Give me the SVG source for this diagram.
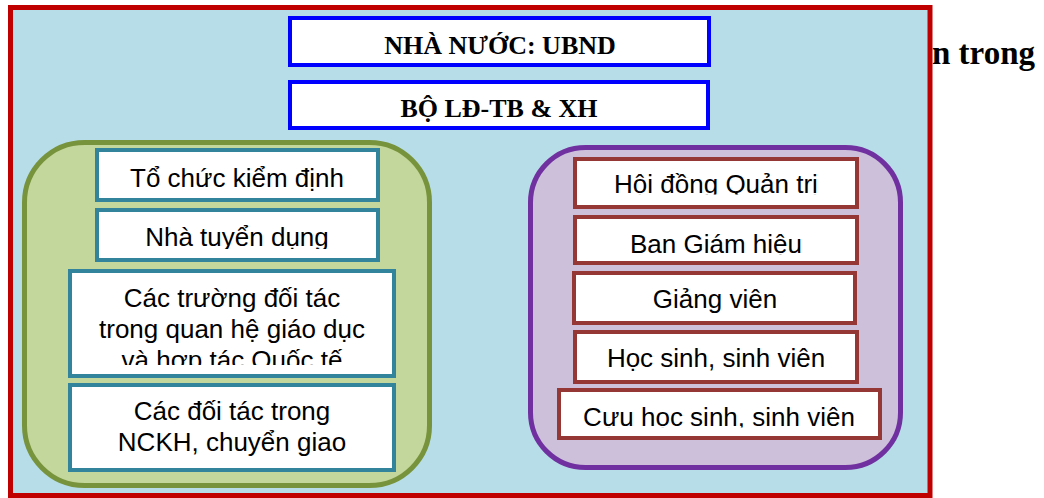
<svg xmlns="http://www.w3.org/2000/svg" width="1044" height="498" viewBox="0 0 1044 498">
<style>
.frame{fill:#b7dde8;stroke:#c00000;stroke-width:5}
.gov{fill:#fff;stroke:#0000ff;stroke-width:4}
.gt{font-family:"Liberation Serif","Times New Roman",serif;font-weight:bold;font-size:26px;fill:#000;text-anchor:middle}
.ext{fill:#c3d69b;stroke:#77933c;stroke-width:5}
.int{fill:#ccc0da;stroke:#7030a0;stroke-width:5}
.eb{fill:#fff;stroke:#31849b;stroke-width:4}
.ib{fill:#fff;stroke:#953735;stroke-width:4}
.t{font-family:"Liberation Sans",Arial,sans-serif;font-size:26px;fill:#000;text-anchor:middle}
</style>
<defs>
<clipPath id="cL2"><rect x="97" y="210" width="281" height="39"/></clipPath>
<clipPath id="cL3"><rect x="70" y="271" width="324" height="94"/></clipPath>
<clipPath id="cR1"><rect x="575" y="159" width="282" height="35.5"/></clipPath>
<clipPath id="cR2"><rect x="575" y="217" width="282" height="38"/></clipPath>
<clipPath id="cR5"><rect x="559" y="390" width="321" height="37.5"/></clipPath>
</defs>
<text x="932" y="64" font-family="Liberation Serif,'Times New Roman',serif" font-weight="bold" font-size="33" fill="#000">n trong</text>
<rect class="frame" x="10.5" y="7.5" width="919.5" height="488"/>
<g id="nha-nuoc"><rect class="gov" x="290" y="18" width="419" height="47"/><text class="gt" x="500" y="54">NHÀ NƯỚC: UBND</text></g>
<g id="bo-ldtbxh"><rect class="gov" x="290" y="82" width="418" height="46"/><text class="gt" x="499" y="117">BỘ LĐ-TB &amp; XH</text></g>
<g id="ben-ngoai">
<rect class="ext" x="24.5" y="142.5" width="405" height="343" rx="60"/>
</g>
<g id="to-chuc-kiem-dinh"><rect class="eb" x="97" y="150" width="281" height="50"/><text class="t" x="237" y="187">Tổ chức kiểm định</text></g>
<g id="nha-tuyen-dung"><rect class="eb" x="97" y="210" width="281" height="50"/><text class="t" x="237" y="246" clip-path="url(#cL2)">Nhà tuyển dụng</text></g>
<g id="cac-truong-doi-tac"><rect class="eb" x="70" y="271" width="324" height="105"/>
<text class="t" clip-path="url(#cL3)"><tspan x="232" y="307">Các trường đối tác</tspan><tspan x="232" y="338">trong quan hệ giáo dục</tspan><tspan x="232" y="369">và hợp tác Quốc tế</tspan></text></g>
<g id="doi-tac-nckh"><rect class="eb" x="70" y="385" width="324" height="85"/>
<text class="t"><tspan x="232" y="420">Các đối tác trong</tspan><tspan x="232" y="451">NCKH, chuyển giao</tspan></text></g>
<g id="ben-trong">
<rect class="int" x="530.5" y="147.5" width="370" height="320" rx="55"/>
</g>
<g id="hoi-dong-quan-tri"><rect class="ib" x="575" y="159" width="282" height="48"/><text class="t" x="716" y="193" clip-path="url(#cR1)">Hội đồng Quản trị</text></g>
<g id="ban-giam-hieu"><rect class="ib" x="575" y="217" width="282" height="46"/><text class="t" x="716" y="253" clip-path="url(#cR2)">Ban Giám hiệu</text></g>
<g id="giang-vien"><rect class="ib" x="574" y="273" width="281" height="50"/><text class="t" x="715" y="308">Giảng viên</text></g>
<g id="hoc-sinh"><rect class="ib" x="575" y="332" width="282" height="50"/><text class="t" x="716" y="367">Học sinh, sinh viên</text></g>
<g id="cuu-hoc-sinh"><rect class="ib" x="559" y="390" width="321" height="48"/><text class="t" x="719" y="426" clip-path="url(#cR5)">Cựu học sinh, sinh viên</text></g>
<g id="connectors"/>
</svg>
